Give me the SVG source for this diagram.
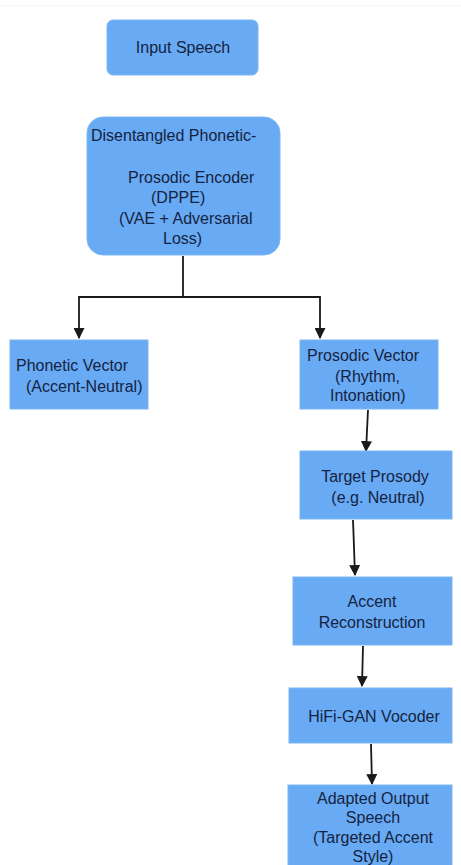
<svg xmlns="http://www.w3.org/2000/svg" width="461" height="865" viewBox="0 0 461 865">
<style>
.box{fill:#68aaf4;stroke:#7db6f3;stroke-width:1}
.t{font-family:"Liberation Sans",Arial,sans-serif;font-size:16px;fill:#16233f}
.c{text-anchor:middle}
.ln{fill:none;stroke:#1a1a1a;stroke-width:1.8}
</style>
<defs>
<marker id="ah" viewBox="0 0 10 10" refX="9" refY="5" markerWidth="11" markerHeight="11" orient="auto" markerUnits="userSpaceOnUse">
<path d="M0,0 L10,5 L0,10 z" fill="#1a1a1a"/>
</marker>
</defs>
<rect width="461" height="865" fill="#ffffff"/>
<line x1="0" y1="6" x2="461" y2="6" stroke="#f0f0f0" stroke-width="1"/>
<g id="connectors">
<polyline class="ln" points="183,256 183,297 79,297 79,338" marker-end="url(#ah)"/>
<polyline class="ln" points="183,297 320,297 320,338" marker-end="url(#ah)"/>
<line class="ln" x1="368" y1="410" x2="366" y2="451" marker-end="url(#ah)"/>
<line class="ln" x1="353" y1="520" x2="355" y2="575" marker-end="url(#ah)"/>
<line class="ln" x1="363" y1="646" x2="362" y2="686" marker-end="url(#ah)"/>
<line class="ln" x1="371" y1="744" x2="372" y2="784" marker-end="url(#ah)"/>
</g>
<g id="input-speech">
<rect class="box" x="107" y="20" width="151" height="55" rx="6" fill="#6aaefb"/>
<text class="t c" x="183" y="53">Input Speech</text>
</g>
<g id="encoder">
<rect class="box" x="87" y="117" width="193" height="138" rx="16"/>
<text class="t" x="91" y="141">Disentangled Phonetic-</text>
<text class="t" x="128" y="183">Prosodic Encoder</text>
<text class="t" x="151" y="203">(DPPE)</text>
<text class="t" x="119" y="224">(VAE + Adversarial</text>
<text class="t" x="163" y="244">Loss)</text>
</g>
<g id="phonetic-vector">
<rect class="box" x="10" y="340" width="138" height="69"/>
<text class="t" x="16" y="371">Phonetic Vector</text>
<text class="t" x="26" y="392">(Accent-Neutral)</text>
</g>
<g id="prosodic-vector">
<rect class="box" x="300" y="340" width="138" height="69"/>
<text class="t" x="307" y="361">Prosodic Vector</text>
<text class="t" x="335" y="382">(Rhythm,</text>
<text class="t" x="330" y="401">Intonation)</text>
</g>
<g id="target-prosody">
<rect class="box" x="300" y="451" width="152" height="68"/>
<text class="t c" x="375" y="482">Target Prosody</text>
<text class="t c" x="378" y="503">(e.g. Neutral)</text>
</g>
<g id="accent-reconstruction">
<rect class="box" x="293" y="577" width="159" height="68"/>
<text class="t c" x="372" y="607">Accent</text>
<text class="t c" x="372" y="628">Reconstruction</text>
</g>
<g id="hifigan">
<rect class="box" x="289" y="688" width="163" height="55"/>
<text class="t c" x="374" y="722">HiFi-GAN Vocoder</text>
</g>
<g id="output-speech">
<rect class="box" x="288" y="785" width="164" height="85"/>
<text class="t c" x="373" y="804">Adapted Output</text>
<text class="t c" x="373" y="823">Speech</text>
<text class="t c" x="373" y="843">(Targeted Accent</text>
<text class="t c" x="373" y="862">Style)</text>
</g>
</svg>
